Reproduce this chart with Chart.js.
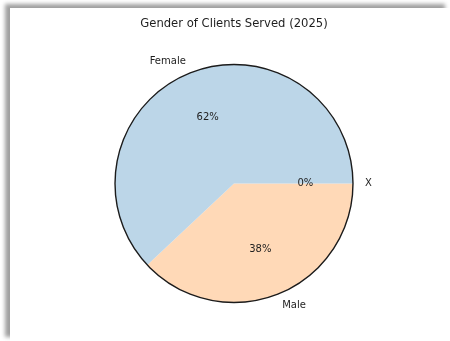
<!DOCTYPE html>
<html>
<head>
<meta charset="utf-8">
<script src="https://cdn.jsdelivr.net/npm/chart.js@4"></script>
<style>
  html, body { margin: 0; padding: 0; background: #fff; }
  body { width: 450px; height: 341px; overflow: hidden; position: relative; }
  .card {
    position: absolute; left: 10px; top: 8px; width: 440px; height: 333px;
    background: #fff;
    box-shadow: -5px -4px 4px rgba(0, 0, 0, 0.38);
  }
  canvas { display: block; }
</style>
</head>
<body>
<div class="card"><canvas id="pie" width="440" height="333"></canvas></div>
<script>
// clients served by gender, in percent
const genders = ["Female", "Male", "X"];
const shares = [62, 38, 0];
const sliceColors = ["#bcd6e8", "#ffd9b7", "#bbe4bb"];
const chartTitle = "Gender of Clients Served (2025)";

// pie goes counter-clockwise from 3 o'clock, so feed it reversed and clockwise
const order = genders.map((_, i) => i).reverse();

const fontFamily = "'DejaVu Sans', sans-serif";

// outer ring + slice labels / percentages
const pieLabels = {
  id: "pieLabels",
  afterDatasetsDraw(chart) {
    const ctx = chart.ctx;
    const meta = chart.getDatasetMeta(0);
    const data = chart.data.datasets[0].data;
    const total = data.reduce((a, b) => a + b, 0);
    const first = meta.data[0];
    ctx.save();
    ctx.beginPath();
    ctx.arc(first.x, first.y, first.outerRadius, 0, Math.PI * 2);
    ctx.strokeStyle = "#1b1b1b";
    ctx.lineWidth = 1.4;
    ctx.stroke();

    ctx.fillStyle = "#1e1e1e";
    ctx.textBaseline = "middle";
    meta.data.forEach((arc, i) => {
      const mid = (arc.startAngle + arc.endAngle) / 2;
      const r = arc.outerRadius;
      const c = Math.cos(mid), s = Math.sin(mid);
      ctx.font = "10px " + fontFamily;
      ctx.textAlign = c >= 0 ? "left" : "right";
      ctx.fillText(chart.data.labels[i], arc.x + 1.1 * r * c, arc.y + 1.1 * r * s);
      ctx.textAlign = "center";
      const pct = Math.round(data[i] / total * 100) + "%";
      ctx.fillText(pct, arc.x + 0.6 * r * c, arc.y + 0.6 * r * s);
    });
    ctx.restore();
  }
};

new Chart(document.getElementById("pie"), {
  type: "pie",
  data: {
    labels: order.map(i => genders[i]),
    datasets: [{
      data: order.map(i => shares[i]),
      backgroundColor: order.map(i => sliceColors[i]),
      borderWidth: 0
    }]
  },
  options: {
    responsive: false,
    animation: false,
    devicePixelRatio: 1,
    rotation: 90,
    layout: { padding: { left: 105, right: 97, top: 0, bottom: 38.5 } },
    plugins: {
      legend: { display: false },
      tooltip: { enabled: false },
      title: {
        display: true,
        text: chartTitle,
        color: "#1e1e1e",
        font: { family: fontFamily, size: 11.6, weight: "normal", lineHeight: 1.2 },
        padding: { top: 9, bottom: 33.6 }
      }
    }
  },
  plugins: [pieLabels]
});
</script>
</body>
</html>
